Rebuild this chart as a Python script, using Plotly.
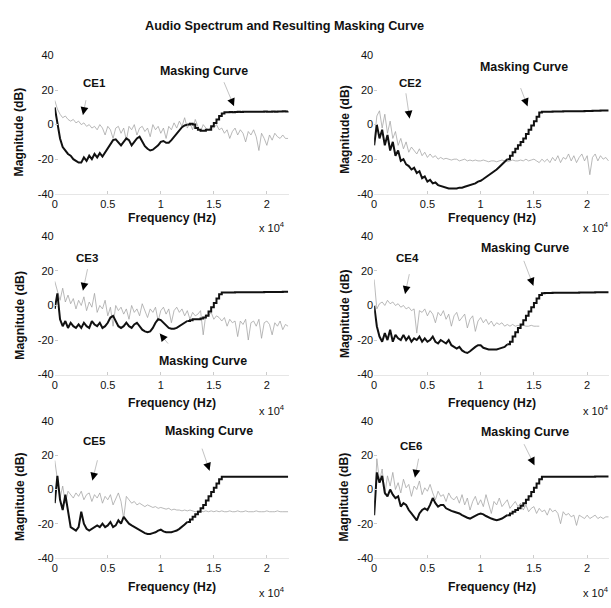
import math
import plotly.graph_objects as go

W, H = 611, 608
FONT = "Liberation Sans, Arial, Helvetica, sans-serif"

# ---------------- data ----------------
FREQ_HZ = list(range(0, 22001, 250))          # 89 frequency bins
X_RANGE = [0, 22050]
Y_RANGE = [-40, 40]
X_TICK_VALS = [0, 5000, 10000, 15000, 20000]
X_TICK_TEXT = ["0", "0.5", "1", "1.5", "2"]
Y_TICK_VALS = [-40, -20, 0, 20, 40]
Y_TICK_TEXT = ["-40", "-20", "0", "20", "40"]
CE_LABELS = ["CE1", "CE2", "CE3", "CE4", "CE5", "CE6"]
MASK_LABEL = "Masking Curve"
TITLE = "Audio Spectrum and Resulting Masking Curve"
X_LABEL = "Frequency (Hz)"
Y_LABEL = "Magnitude (dB)"
STAIR_FROM_HZ = 12500   # masking curve is drawn as stairs above this frequency

spec1 = [14, 9, 6, 4, 5, 3, 2, 3, 1, 2,
         0, 1, -1, 0, -2, -1, -3, 0, -2, -6,
         -1, -3, -8, -2, -1, -5, -2, -9, -1, -3,
         0, -6, -2, -1, -4, -2, -7, 0, -3, -1,
         -5, -2, -8, -1, -3, 1, -2, 2, -1, 4,
         -2, 1, -3, 3, -1, -4, 0, -2, -3, -1,
         -2, 0, -3, -2, -5, -3, -8, -4, -2, -6,
         -3, -5, -10, -4, -6, -3, -7, -15, -5, -8,
         -12, -6, -9, -5, -7, -8, -6, -8, -8]
mask1 = [10, 2, -8, -13, -15, -17, -18, -20, -21, -22,
         -22, -19, -21, -18, -20, -17, -19, -16.5, -18.5, -16,
         -14, -11, -9, -8.5, -10.5, -12, -10, -8, -9, -12,
         -10, -8, -7, -9.5, -12.5, -14, -15, -14.5, -13.5, -12,
         -10, -9.5, -10.5, -10.5, -9, -7, -5, -3, -1.5, -0.5,
         0, 0.5, 0, -2, -3, -3.5, -3.5, -3, -3, -1,
         1, 3, 5, 6.5, 7.2, 7.2, 7.3, 7.2, 7.3, 7.4,
         7.3, 7.4, 7.4, 7.5, 7.4, 7.5, 7.5, 7.4, 7.5, 7.6,
         7.5, 7.5, 7.6, 7.5, 7.6, 7.6, 7.7, 7.6, 7.7]

spec2 = [-10, 5, 8, -2, 6, -5, 2, -8, -4, -12,
         -8, -14, -10, -16, -13, -15, -17, -14, -18, -16,
         -19, -17, -19, -18, -20, -19, -20, -19.5, -20, -20.5,
         -20, -20, -21, -20.5, -20, -21, -20.5, -21, -20.5, -21,
         -21, -20.5, -21, -21.5, -21, -21, -21.5, -21, -20.5, -21,
         -21.5, -21, -20.5, -21, -21, -20.5, -21, -20, -21, -20.5,
         -20, -21, -22, -20, -21.5, -20, -22, -19, -21, -18,
         -22, -19, -20, -17, -21, -18, -22, -19, -17, -21,
         -18, -29, -19, -17, -21, -18, -20, -19, -21]
mask2 = [-12, 0, -8, -3, -12, -6, -15, -10, -18, -15,
         -21, -20, -23, -24, -26, -25, -28, -27, -31, -30,
         -33, -32, -34, -33.5, -35, -35.5, -36, -36.5, -37, -37,
         -37, -37, -36.5, -36.5, -36, -35.5, -35, -34.5, -34, -33,
         -32.5, -31.5, -30.5, -29.5, -28, -27, -26, -24.5, -23, -21.5,
         -20, -18, -16, -14, -12, -10, -8, -5.5, -3, -0.5,
         2, 4.5, 7, 7.5, 7.5, 7.5, 7.5, 7.6, 7.6, 7.6,
         7.6, 7.7, 7.7, 7.7, 7.7, 7.8, 7.8, 7.8, 7.8, 7.9,
         7.9, 7.9, 8, 8, 8, 8.1, 8.1, 8.2, 8.2]

spec3 = [14, 8, 3, 10, 2, 6, 1, 4, -2, 3,
         0, 5, -3, 2, -1, 7, -4, 0, -2, 3,
         -6, -1, -12, 0, -3, -1, -5, -2, -8, 0,
         -4, -2, -6, 1, -3, -7, -2, -4, -1, -9,
         -3, -1, -5, -2, -10, -3, -1, -4, -2, -6,
         -3, -8, -4, -6, -5, -3, -17, -5, -6, -4,
         -8, -6, -7, -9, -7, -12, -8, -10, -9, -18,
         -9, -11, -8, -20, -10, -9, -12, -8, -19, -10,
         -9, -11, -17, -10, -12, -9, -14, -11, -12]
mask3 = [-2, 7, -8, -12, -9, -13, -10, -12, -13, -11,
         -13, -10, -12, -13, -9, -11, -12, -10, -13, -12,
         -10, -7, -6, -9, -12, -13, -12, -10, -12, -13,
         -11, -10, -12, -14, -15, -15.5, -15, -13, -10, -8,
         -8.5, -10, -12, -13, -13.5, -13.5, -13, -12, -11, -10,
         -9, -8.5, -8, -8, -8, -7.5, -7, -6, -3.5, -1,
         1.5, 4, 6.5, 7.5, 7.5, 7.5, 7.5, 7.5, 7.6, 7.6,
         7.6, 7.6, 7.6, 7.7, 7.7, 7.7, 7.7, 7.7, 7.7, 7.8,
         7.8, 7.8, 7.8, 7.8, 7.8, 7.8, 7.9, 7.9, 7.9]

spec4 = [15, -2, 1, 2, 0, 3, 1, 2, 0, 1,
         -1, 0, -2, -1, -3, -2, -16, -3, -4, -2,
         -6, -3, -5, -10, -4, -6, -3, -8, -5, -12,
         -6, -4, -9, -7, -5, -13, -8, -6, -15, -9,
         -7, -10, -8, -11, -9, -12, -10, -11, -10, -12,
         -11, -12, -11, -12, -11.5, -12, -11.5, -12, -12, -11.5,
         -12, -12, -12, None, None, None, None, None, None, None,
         None, None, None, None, None, None, None, None, None, None,
         None, None, None, None, None, None, None, None, None]
mask4 = [0, -12, -18, -21, -16, -20, -14, -21, -17, -19,
         -20, -17, -20, -18, -21, -19, -20, -18, -21, -19,
         -21, -20, -18, -21, -22, -20, -21, -22, -20, -23,
         -24, -25, -24, -26, -27, -27.5, -26.5, -25, -24, -23,
         -23, -24.5, -25, -25.5, -25.5, -25.5, -25.5, -25, -24.5, -24,
         -22.5, -21, -18, -15.5, -13, -11, -8.5, -6, -3.5, -1,
         1.5, 4, 6, 7, 7.2, 7.2, 7.2, 7.3, 7.3, 7.3,
         7.3, 7.3, 7.4, 7.4, 7.4, 7.4, 7.4, 7.5, 7.5, 7.5,
         7.5, 7.5, 7.5, 7.6, 7.6, 7.6, 7.6, 7.6, 7.6]

spec5 = [17, 5, -5, 2, -8, -1, -3, -5, -2, -4,
         -1, -6, -3, -2, -7, -3, -5, -2, -8, -4,
         -6, -3, -9, -5, -2, -7, -17, -4, -6, -8,
         -7, -9, -8, -9, -10, -9, -10, -10.5, -10, -11,
         -10.5, -11, -11.5, -11, -12, -11.5, -12, -12, -12.5, -12,
         -12.5, -12, -12.5, -13, -12.5, -12.5, -13, -12.5, -13, -12.5,
         -13, -12.5, -13, -12.5, -13, -13, -12.5, -13, -13, -12.5,
         -13, -13, -12.5, -13, -13, -13, -12.5, -13, -13, -13,
         -12.5, -13, -13, -13, -12.5, -13, -13, -13, -13]
mask5 = [-8, 8, -6, -12, -3, -14, -22, -23, -24, -22,
         -13, -20, -23, -24, -23, -22, -21, -22, -20, -22,
         -21, -19, -22, -21, -18, -20, -16, -18, -20, -21,
         -22, -23, -24, -25, -25.5, -26, -26, -25.5, -25, -24,
         -23.5, -24.5, -25, -25, -25, -24.5, -24, -23, -22, -20.5,
         -19, -17.5, -16, -14.5, -13, -11, -9, -6.5, -4, -1.5,
         1, 3.5, 6, 7.5, 7.5, 7.5, 7.5, 7.5, 7.5, 7.5,
         7.5, 7.5, 7.5, 7.5, 7.5, 7.5, 7.5, 7.5, 7.5, 7.5,
         7.5, 7.5, 7.5, 7.5, 7.5, 7.5, 7.5, 7.5, 7.5]

spec6 = [-15, 18, 5, 12, -3, 8, 2, 10, 0, 4,
         -2, 6, 1, 3, -4, 2, 0, 5, -3, 1,
         -1, 3, -2, -6, -1, -4, -3, -7, -2, -5,
         -6, -4, -8, -3, -9, -5, -12, -7, -4, -9,
         -6, -10, -3, -8, -14, -7, -9, -5, -10, -8,
         -6, -11, -9, -7, -10, -8, -12, -9, -13, -11,
         -10, -14, -11, -13, -12, -15, -11, -13, -12, -14,
         -20, -13, -15, -14, -16, -15, -21, -15, -16, -17,
         -15, -17, -16, -15, -17, -16, -17, -16, -16]
mask6 = [-15, 10, 4, 8, -2, -4, 0, -3, -5, -4,
         -10, -8, -9, -12, -14, -16, -18, -14, -12, -11,
         -12, -9, -5, -8, -10, -9, -9, -11, -12, -12.5,
         -13, -13.5, -14, -15, -16, -16.5, -17, -16, -15, -14.5,
         -14, -14.5, -15.5, -16.5, -17, -17.5, -18, -17.5, -17, -16,
         -15, -14, -13, -12, -11, -9.5, -8, -6, -4, -1.5,
         1, 3.5, 6, 7.5, 7.5, 7.5, 7.5, 7.5, 7.5, 7.5,
         7.5, 7.5, 7.5, 7.5, 7.5, 7.5, 7.5, 7.5, 7.5, 7.5,
         7.5, 7.5, 7.5, 7.6, 7.6, 7.6, 7.6, 7.6, 7.6]

SPECTRA = [spec1, spec2, spec3, spec4, spec5, spec6]
MASKS = [mask1, mask2, mask3, mask4, mask5, mask6]

# ---------------- layout geometry (pixels) ----------------
COL_PX = [(52, 287), (373, 609)]
ROW_PX = [(50.5, 191.5), (235, 376), (423.5, 563)]

# annotation anchor points in data units (x Hz, y dB): text, line start, tip
CE_TEXT = [(3750, 24), (3330, 24), (3000, 27.6), (3100, 27.2), (3770, 28.6), (3500, 25.5)]
CE_START = [(2970, 15), (2960, 19), (3120, 21.9), (3330, 19), (4060, 18), (4200, 18.9)]
CE_TIP = [(2660, 5.6), (3330, 3.5), (2660, 8.6), (2900, 6.7), (3550, 5.3), (3830, 7)]
MC_TEXT = [(14100, 31), (14100, 33.6), (14000, -32.4), (14200, 33.3), (14500, 34.3), (14200, 33.6)]
MC_START = [(15900, 25.4), (13700, 22), (10800, -22.9), (14000, 26.7), (13840, 24.8), (14000, 27.4)]
MC_TIP = [(16900, 10.7), (14400, 10.6), (9900, -16.2), (14950, 11.4), (14600, 11), (15050, 14.2)]

FREQ_LABEL_Y = [216, 405, 593]
EXP_LABEL_Y = [225, 412, 598]
EXP_LABEL_RIGHT = [285, 611]
MAG_LABEL_X = [17, 343]
MAG_LABEL_Y = [128, 126, 315, 314, 500, 501]


def xdom(col):
    return [COL_PX[col][0] / W, COL_PX[col][1] / W]


def ydom(row):
    return [1 - ROW_PX[row][1] / H, 1 - ROW_PX[row][0] / H]


def to_px(col, row, x, y):
    x0, x1 = COL_PX[col]
    y0, y1 = ROW_PX[row]
    return (x0 + (x - X_RANGE[0]) / (X_RANGE[1] - X_RANGE[0]) * (x1 - x0),
            y1 - (y - Y_RANGE[0]) / (Y_RANGE[1] - Y_RANGE[0]) * (y1 - y0))


fig = go.Figure()
annotations = []
tick_font = dict(family=FONT, size=11, color="#111111")
lab_font = dict(family=FONT, size=12.2, color="#111111")
ann_font = dict(family=FONT, size=12.4, color="#111111")
ce_font = dict(family=FONT, size=11.5, color="#111111")


def add_arrow(k, ax_suffix, text, tpos, spos, tip, font):
    row, col = divmod(k, 2)
    xr, yr = "x" + ax_suffix, "y" + ax_suffix
    annotations.append(dict(x=tpos[0], y=tpos[1], xref=xr, yref=yr, text="<b>" + text + "</b>",
                            showarrow=False, font=font, xanchor="center", yanchor="middle"))
    annotations.append(dict(x=tip[0], y=tip[1], ax=spos[0], ay=spos[1], xref=xr, yref=yr,
                            axref=xr, ayref=yr, text="", showarrow=True, arrowhead=0,
                            arrowwidth=0.7, arrowcolor="#a8a8a8", standoff=0, startstandoff=0))
    sx, sy = to_px(col, row, *spos)
    tx, ty = to_px(col, row, *tip)
    L = math.hypot(tx - sx, ty - sy) or 1.0
    ux, uy = (tx - sx) / L, (ty - sy) / L
    annotations.append(dict(x=tip[0], y=tip[1], ax=-ux * 6, ay=-uy * 6, xref=xr, yref=yr,
                            text="", showarrow=True, arrowhead=2, arrowsize=1.3,
                            arrowwidth=1.2, arrowcolor="#000000", standoff=0))


for k in range(6):
    row, col = divmod(k, 2)
    sfx = "" if k == 0 else str(k + 1)
    split = FREQ_HZ.index(STAIR_FROM_HZ)
    fig.add_trace(go.Scatter(x=FREQ_HZ, y=SPECTRA[k], mode="lines",
                             line=dict(color="#a2a2a2", width=0.75),
                             xaxis="x" + sfx, yaxis="y" + sfx, hoverinfo="skip",
                             showlegend=False, connectgaps=False))
    fig.add_trace(go.Scatter(x=FREQ_HZ[:split + 1], y=MASKS[k][:split + 1], mode="lines",
                             line=dict(color="#111111", width=2),
                             xaxis="x" + sfx, yaxis="y" + sfx, hoverinfo="skip",
                             showlegend=False))
    fig.add_trace(go.Scatter(x=FREQ_HZ[split:], y=MASKS[k][split:], mode="lines",
                             line=dict(color="#111111", width=2, shape="hv"),
                             xaxis="x" + sfx, yaxis="y" + sfx, hoverinfo="skip",
                             showlegend=False))
    fig.update_layout(**{
        "xaxis" + sfx: dict(domain=xdom(col), range=X_RANGE, anchor="y" + sfx,
                            tickvals=X_TICK_VALS, ticktext=X_TICK_TEXT, tickfont=tick_font,
                            showgrid=False, zeroline=False, showline=True,
                            linecolor="#e6e6e6", linewidth=1, ticks="inside", ticklen=3,
                            tickcolor="#cccccc"),
        "yaxis" + sfx: dict(domain=ydom(row), range=Y_RANGE, anchor="x" + sfx,
                            tickvals=Y_TICK_VALS, ticktext=Y_TICK_TEXT, tickfont=tick_font,
                            showgrid=False, zeroline=False, showline=False,
                            ticks="inside", ticklen=3, tickcolor="#cccccc"),
    })
    add_arrow(k, sfx, CE_LABELS[k], CE_TEXT[k], CE_START[k], CE_TIP[k], ce_font)
    add_arrow(k, sfx, MASK_LABEL, MC_TEXT[k], MC_START[k], MC_TIP[k], ann_font)

    # axis labels
    cx = (COL_PX[col][0] + COL_PX[col][1]) / 2 / W
    annotations.append(dict(x=cx, y=1 - FREQ_LABEL_Y[row] / H, xref="paper", yref="paper",
                            text="<b>" + X_LABEL + "</b>", showarrow=False, font=lab_font,
                            xanchor="center", yanchor="middle"))
    annotations.append(dict(x=EXP_LABEL_RIGHT[col] / W, y=1 - EXP_LABEL_Y[row] / H, xref="paper",
                            yref="paper", text="x 10<sup>4</sup>", showarrow=False,
                            font=dict(family=FONT, size=11, color="#111111"),
                            xanchor="right", yanchor="middle"))
    annotations.append(dict(x=MAG_LABEL_X[col] / W, y=1 - MAG_LABEL_Y[k] / H, xref="paper",
                            yref="paper", text="<b>" + Y_LABEL + "</b>", showarrow=False,
                            font=lab_font, textangle=-90, xanchor="center", yanchor="middle"))

annotations.append(dict(x=283 / W, y=1 - 20 / H, xref="paper", yref="paper",
                        text="<b>" + TITLE + "</b>", showarrow=False,
                        font=dict(family=FONT, size=12.7, color="#111111"),
                        xanchor="center", yanchor="middle"))

fig.update_layout(width=W, height=H, margin=dict(l=0, r=0, t=0, b=0),
                  paper_bgcolor="white", plot_bgcolor="white",
                  annotations=annotations, showlegend=False)

fig.write_html("out.html", config={"displayModeBar": False},
               post_script="document.body.style.margin='0';document.body.style.padding='0';")
